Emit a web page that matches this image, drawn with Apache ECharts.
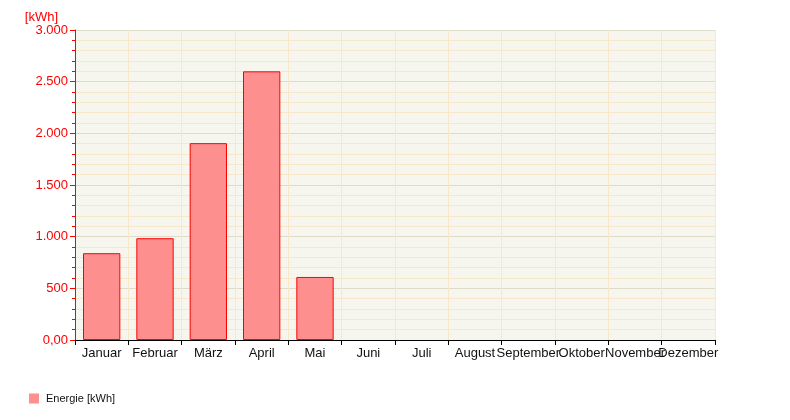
<!DOCTYPE html>
<html><head><meta charset="utf-8">
<script src="https://cdn.jsdelivr.net/npm/echarts@6/dist/echarts.min.js"></script>
<style>html,body{margin:0;padding:0;background:#fff}#c{width:790px;height:420px}</style>
</head><body><div id="c"></div>
<script>
var months = ['Januar','Februar','März','April','Mai','Juni','Juli','August','September','Oktober','November','Dezember'];
var energie = [840, 985, 1905, 2600, 610, null, null, null, null, null, null, null];
var seriesName = 'Energie [kWh]';
var unitName = '[kWh]';

function fmt(v){
  if (v === 0) return '0,00';
  return String(v).replace(/\B(?=(\d{3})+(?!\d))/g, '.');
}
var chart = echarts.init(document.getElementById('c'), null, {renderer:'canvas'});
chart.setOption({
  animation:false,
  textStyle:{fontFamily:'Liberation Sans, Arial, sans-serif'},
  grid:{left:75, right:75, top:30, bottom:80, show:true, backgroundColor:'#f6f6ef', borderWidth:0},
  legend:{left:24, top:388, itemWidth:10, itemHeight:10, icon:'rect', itemGap:10,
    textStyle:{fontSize:11, color:'#111', padding:[0,0,0,2], fontFamily:'Liberation Sans, Arial, sans-serif'},
    data:[{name:seriesName, itemStyle:{borderWidth:0}}]},
  xAxis:{type:'category', data:months, boundaryGap:true,
    axisLine:{lineStyle:{color:'#000', width:1}},
    axisTick:{show:true, alignWithLabel:false, length:5, lineStyle:{color:'#000'}},
    axisLabel:{color:'#111', fontSize:13, interval:0, margin:7},
    splitLine:{show:true, lineStyle:{color:'#f6e8c8', width:1}}},
  yAxis:{type:'value', min:0, max:3000, interval:500,
    name:unitName, nameLocation:'end', nameGap:6,
    nameTextStyle:{color:'#ff0000', fontSize:13, align:'right', padding:[0,17,0,0]},
    axisLine:{show:true, lineStyle:{color:'#ff0000', width:1}},
    axisTick:{show:true, length:5, lineStyle:{color:'#ff0000'}},
    minorTick:{show:true, splitNumber:5, length:3, lineStyle:{color:'#ff0000'}},
    axisLabel:{color:'#ff0000', fontSize:13, formatter:fmt, margin:7},
    splitLine:{show:true, lineStyle:{color:'#dcdcc8', width:1}},
    minorSplitLine:{show:true, lineStyle:{color:'#f6e8c8', width:1}}},
  series:[{name:seriesName, type:'bar', data:energie, barWidth:'70%',
    itemStyle:{color:'#fd8f8f', borderColor:'#ff0000', borderWidth:1}}]
});
</script></body></html>
